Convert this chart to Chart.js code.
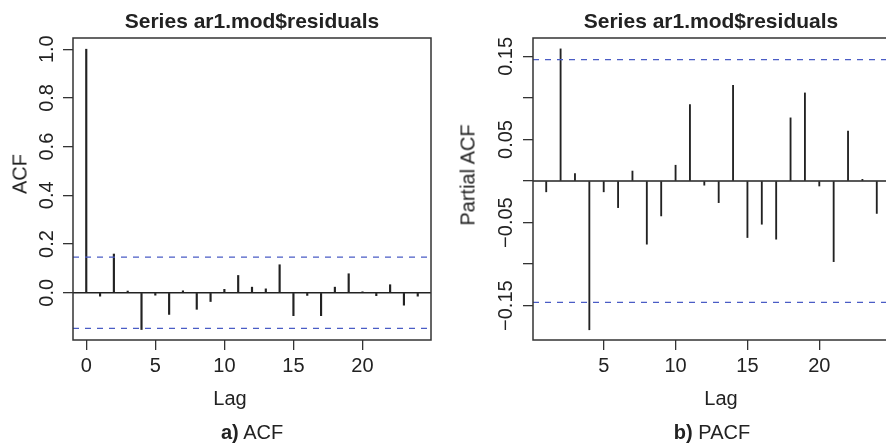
<!DOCTYPE html>
<html>
<head>
<meta charset="utf-8">
<script src="https://cdn.jsdelivr.net/npm/chart.js@4"></script>
<style>
  html, body { margin: 0; padding: 0; background: #fff; }
  body { width: 886px; height: 443px; overflow: hidden; position: relative;
         font-family: 'Liberation Sans', Arial, sans-serif; color: #222; }
  canvas { position: absolute; top: 0; }
  .lbl { position: absolute; transform: translate(-50%, -50%); white-space: nowrap; font-size: 20px; }
  .main { font-weight: bold; font-size: 21px; }
  .rot { transform: translate(-50%, -50%) rotate(-90deg); }
</style>
</head>
<body>
<canvas id="acfChart" width="443" height="443" style="left:0"></canvas>
<canvas id="pacfChart" width="460" height="443" style="left:443px"></canvas>

<div class="lbl main" style="left:252px; top:21px">Series ar1.mod$residuals</div>
<div class="lbl main" style="left:711px; top:21px">Series ar1.mod$residuals</div>
<div class="lbl rot" style="left:20px; top:174px">ACF</div>
<div class="lbl rot" style="left:468px; top:175px">Partial ACF</div>
<div class="lbl" style="left:230px; top:398px">Lag</div>
<div class="lbl" style="left:721px; top:398px">Lag</div>
<div class="lbl" style="left:252px; top:432px"><b>a)</b> ACF</div>
<div class="lbl" style="left:712px; top:432px"><b>b)</b> PACF</div>

<script>
// 数据
const acfLags = [0, 1, 2, 3, 4, 5, 6, 7, 8, 9, 10, 11, 12, 13, 14, 15, 16, 17, 18, 19, 20, 21, 22, 23, 24];
const acfValues = [1.0, -0.014, 0.159, 0.007, -0.151, -0.010, -0.089, 0.008, -0.068, -0.036, 0.014, 0.071,
                   0.023, 0.016, 0.115, -0.094, -0.011, -0.094, 0.023, 0.078, 0.004, -0.012, 0.033, -0.051, -0.014];
const pacfLags = [1, 2, 3, 4, 5, 6, 7, 8, 9, 10, 11, 12, 13, 14, 15, 16, 17, 18, 19, 20, 21, 22, 23, 24];
const pacfValues = [-0.013, 0.159, 0.009, -0.179, -0.013, -0.032, 0.012, -0.076, -0.042, 0.019, 0.092, -0.005,
                    -0.026, 0.115, -0.068, -0.052, -0.070, 0.076, 0.106, -0.006, -0.097, 0.060, 0.002, -0.039];
const ciLimit = 0.146;

// 刻度
const acfXTicks = [0, 5, 10, 15, 20];
const acfXLabels = ['0', '5', '10', '15', '20'];
const acfYTicks = [0, 0.2, 0.4, 0.6, 0.8, 1.0];
const acfYLabels = ['0.0', '0.2', '0.4', '0.6', '0.8', '1.0'];
const pacfXTicks = [5, 10, 15, 20];
const pacfXLabels = ['5', '10', '15', '20'];
const pacfYTicks = [-0.15, -0.10, -0.05, 0, 0.05, 0.10, 0.15];
const pacfYLabels = ['\u22120.15', '', '\u22120.05', '', '0.05', '', '0.15'];

const blue = '#4a5cc5';
const ink = '#222';
const tickFont = { family: "'Liberation Sans', Arial, sans-serif", size: 20 };

// 绘图区边框
const boxPlugin = {
    id: 'box',
    afterDraw(chart) {
        const { ctx, chartArea: a } = chart;
        ctx.save();
        ctx.strokeStyle = '#333';
        ctx.lineWidth = 1.5;
        ctx.strokeRect(a.left, a.top, a.right - a.left, a.bottom - a.top);
        ctx.restore();
    }
};

function hline(y, xRange, color, dash, width) {
    return {
        type: 'line',
        data: [{ x: xRange[0], y: y }, { x: xRange[1], y: y }],
        borderColor: color,
        borderWidth: width,
        borderDash: dash,
        pointRadius: 0,
        order: 1
    };
}

function axisGrid() {
    return { offset: false, drawOnChartArea: false, drawTicks: true, tickLength: 10, color: '#333', lineWidth: 1.3 };
}

// 创建相关图
function createCorrChart(id, cfg) {
    const ctx = document.getElementById(id).getContext('2d');
    new Chart(ctx, {
        type: 'bar',
        data: {
            datasets: [
                {
                    type: 'bar',
                    data: cfg.lags.map((l, i) => ({ x: l, y: cfg.values[i] })),
                    backgroundColor: ink,
                    barThickness: cfg.barWidth,
                    order: 2
                },
                hline(0, cfg.xRange, ink, [], 1.3),
                hline(ciLimit, cfg.xRange, blue, [6, 6], 1.3),
                hline(-ciLimit, cfg.xRange, blue, [6, 6], 1.3)
            ]
        },
        options: {
            responsive: false,
            animation: false,
            layout: { padding: { top: 38, right: cfg.rightPad, left: 0, bottom: 0 } },
            plugins: { legend: { display: false }, tooltip: { enabled: false } },
            scales: {
                x: {
                    type: 'linear', min: cfg.xRange[0], max: cfg.xRange[1], offset: false, bounds: 'data',
                    grid: axisGrid(),
                    border: { display: false },
                    afterBuildTicks: s => { s.ticks = cfg.xTicks.map(v => ({ value: v })); },
                    afterFit: s => { s.height = 103; },
                    ticks: { font: tickFont, color: ink, padding: 4, maxRotation: 0, autoSkip: false,
                             callback: (v, i) => cfg.xLabels[i] }
                },
                y: {
                    type: 'linear', min: cfg.yRange[0], max: cfg.yRange[1], bounds: 'data',
                    grid: axisGrid(),
                    border: { display: false },
                    afterBuildTicks: s => { s.ticks = cfg.yTicks.map(v => ({ value: v })); },
                    afterFit: s => { s.width = cfg.yAxisWidth; },
                    ticks: { font: tickFont, color: ink, minRotation: 90, maxRotation: 90, crossAlign: 'center',
                             padding: cfg.yPad, autoSkip: false, callback: (v, i) => cfg.yLabels[i] }
                }
            }
        },
        plugins: [boxPlugin]
    });
}

createCorrChart('acfChart', {
    lags: acfLags, values: acfValues, barWidth: 1.5,
    xRange: [-0.96, 24.96], yRange: [-0.194, 1.046],
    xTicks: acfXTicks, xLabels: acfXLabels, yTicks: acfYTicks, yLabels: acfYLabels,
    yAxisWidth: 73, rightPad: 12, yPad: 2
});

createCorrChart('pacfChart', {
    lags: pacfLags, values: pacfValues, barWidth: 1.2,
    xRange: [0.08, 24.92], yRange: [-0.1913, 0.1721],
    xTicks: pacfXTicks, xLabels: pacfXLabels, yTicks: pacfYTicks, yLabels: pacfYLabels,
    yAxisWidth: 90, rightPad: 13, yPad: -9
});
</script>
</body>
</html>
